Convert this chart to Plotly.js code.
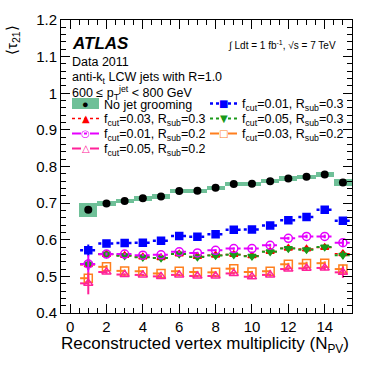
<!DOCTYPE html>
<html>
<head>
<meta charset="utf-8">
<script src="https://cdn.plot.ly/plotly-3.0.1.min.js"></script>
<style>
  html, body { margin: 0; padding: 0; background: #fff; }
  #chart { width: 382px; height: 367px; }
</style>
</head>
<body>
<div id="chart"></div>
<script>
// number of reconstructed vertices (bin centres)
const nPV = [1, 2, 3, 4, 5, 6, 7, 8, 9, 10, 11, 12, 13, 14, 15];

// <tau21> per configuration
const noGroom   = [0.682, 0.699, 0.706, 0.713, 0.718, 0.733, 0.734, 0.742, 0.752, 0.753, 0.760, 0.767, 0.772, 0.778, 0.756];
const noGroomSyst = [0.019, 0.007, 0.006, 0.006, 0.006, 0.005, 0.005, 0.005, 0.005, 0.005, 0.005, 0.006, 0.006, 0.008, 0.010];

const f01R03 = [0.571, 0.590, 0.591, 0.592, 0.597, 0.610, 0.608, 0.615, 0.627, 0.628, 0.639, 0.653, 0.662, 0.682, 0.652];
const f01R03Err = [0.016, 0.004, 0.003, 0.003, 0.003, 0.003, 0.003, 0.003, 0.003, 0.003, 0.004, 0.004, 0.005, 0.005, 0.009];

const f03R03 = [0.532, 0.560, 0.557, 0.553, 0.551, 0.561, 0.554, 0.558, 0.560, 0.556, 0.568, 0.577, 0.575, 0.579, 0.562];
const f03R03Err = [0.015, 0.004, 0.003, 0.003, 0.003, 0.003, 0.003, 0.003, 0.003, 0.003, 0.004, 0.004, 0.005, 0.005, 0.010];

const f05R03 = [0.534, 0.561, 0.556, 0.552, 0.550, 0.561, 0.553, 0.557, 0.559, 0.555, 0.567, 0.576, 0.573, 0.580, 0.558];
const f05R03Err = [0.012, 0.004, 0.003, 0.003, 0.003, 0.003, 0.003, 0.003, 0.003, 0.003, 0.004, 0.004, 0.005, 0.006, 0.011];

const f01R02 = [0.534, 0.561, 0.561, 0.558, 0.559, 0.567, 0.564, 0.571, 0.576, 0.576, 0.585, 0.604, 0.609, 0.609, 0.592];
const f01R02Err = [0.024, 0.004, 0.003, 0.003, 0.003, 0.003, 0.003, 0.003, 0.003, 0.003, 0.004, 0.004, 0.005, 0.005, 0.009];

const f03R02 = [0.495, 0.526, 0.515, 0.514, 0.508, 0.514, 0.512, 0.511, 0.521, 0.512, 0.514, 0.533, 0.535, 0.536, 0.520];
const f03R02Err = [0.015, 0.005, 0.003, 0.003, 0.003, 0.003, 0.003, 0.003, 0.003, 0.003, 0.004, 0.004, 0.005, 0.005, 0.012];

const f05R02 = [0.481, 0.512, 0.505, 0.504, 0.500, 0.504, 0.501, 0.501, 0.508, 0.499, 0.504, 0.520, 0.522, 0.523, 0.511];
const f05R02Err = [0.030, 0.005, 0.003, 0.003, 0.003, 0.003, 0.003, 0.003, 0.003, 0.003, 0.004, 0.004, 0.005, 0.006, 0.015];

const FONT = 'Liberation Sans, Arial, Helvetica, sans-serif';
const BAND = '#6fc098';

// horizontal "error bar" segments spanning each bin
function binSegments(xs, ys, half) {
    const sx = [], sy = [];
    xs.forEach((x, i) => {
        sx.push(x - half, x + half, null);
        sy.push(ys[i], ys[i], null);
    });
    return {x: sx, y: sy};
}

const series = [
    {name: 'f<sub>cut</sub>=0.01, R<sub>sub</sub>=0.3', y: f01R03, err: f01R03Err, color: '#0000ff', symbol: 'square', glyph: '■', size: 7, dash: 'dot', lw: 2.5, col: 1, row: 0},
    {name: 'f<sub>cut</sub>=0.03, R<sub>sub</sub>=0.3', y: f03R03, err: f03R03Err, color: '#ff0000', symbol: 'triangle-up', glyph: '▲', size: 7, dash: 'dot', lw: 1.5, col: 0, row: 1},
    {name: 'f<sub>cut</sub>=0.05, R<sub>sub</sub>=0.3', y: f05R03, err: f05R03Err, color: '#1a9a1a', symbol: 'triangle-down', glyph: '▼', size: 7, dash: 'dot', lw: 2, col: 1, row: 1},
    {name: 'f<sub>cut</sub>=0.01, R<sub>sub</sub>=0.2', y: f01R02, err: f01R02Err, color: '#e600ff', symbol: 'circle-open', glyph: '○', size: 8, dash: 'dashdot', lw: 2, col: 0, row: 2},
    {name: 'f<sub>cut</sub>=0.03, R<sub>sub</sub>=0.2', y: f03R02, err: f03R02Err, color: '#ff7f1e', symbol: 'square-open', glyph: '□', size: 8, dash: 'dash', lw: 2, col: 1, row: 2},
    {name: 'f<sub>cut</sub>=0.05, R<sub>sub</sub>=0.2', y: f05R02, err: f05R02Err, color: '#ff2299', symbol: 'triangle-up-open', glyph: '△', size: 8, dash: 'dash', lw: 2, col: 0, row: 3}
];

const traces = [];

// green band for the ungroomed jets
traces.push({
    type: 'bar',
    x: nPV,
    base: noGroom.map((v, i) => v - noGroomSyst[i]),
    y: noGroomSyst.map(e => 2 * e),
    width: 1,
    marker: {color: BAND, line: {width: 0}},
    hoverinfo: 'skip'
});

// bin-wide dotted lines
series.forEach(s => {
    const seg = binSegments(nPV, s.y, 0.45);
    traces.push({
        type: 'scatter', x: seg.x, y: seg.y, mode: 'lines',
        line: {color: s.color, width: s.lw, dash: s.dash},
        hoverinfo: 'skip', connectgaps: false
    });
});

// markers with statistical error bars
series.forEach(s => {
    traces.push({
        type: 'scatter', x: nPV, y: s.y, mode: 'markers', name: s.name,
        marker: {color: s.color, symbol: s.symbol, size: s.size, line: {color: s.color, width: 1.5}},
        error_y: {type: 'data', array: s.err, color: s.color, thickness: 2, width: 0}
    });
});

traces.push({
    type: 'scatter', x: nPV, y: noGroom, mode: 'markers', name: 'No jet grooming',
    marker: {color: 'black', symbol: 'circle', size: 8}
});

// ---- hand-placed legend (ROOT style, two columns) ----
const plotL = 61, plotW = 291, plotB = 313, plotH = 293;
const px = v => (v - plotL) / plotW;
const py = v => (plotB - v) / plotH;
const legColX = [72, 210];
const legRowY0 = 103.5, legRowStep = 15, legLineLen = 27;

const shapes = [];
const annotations = [];

function legendLabel(text, col, row) {
    annotations.push({
        text: text, xref: 'paper', yref: 'paper',
        x: px(legColX[col] + legLineLen + 3), y: py(legRowY0 + row * legRowStep + 1.5),
        xanchor: 'left', yanchor: 'middle', showarrow: false,
        font: {size: 12.5}
    });
}

// "No jet grooming": band box with black dot
shapes.push({
    type: 'rect', xref: 'paper', yref: 'paper',
    x0: px(legColX[0]), x1: px(legColX[0] + legLineLen),
    y0: py(legRowY0 - 5.5), y1: py(legRowY0 + 5.5),
    fillcolor: BAND, line: {width: 0}
});
annotations.push({
    text: '●', xref: 'paper', yref: 'paper',
    x: px(legColX[0] + legLineLen / 2), y: py(legRowY0),
    xanchor: 'center', yanchor: 'middle', showarrow: false,
    font: {size: 11, color: 'black'}
});
legendLabel('No jet grooming', 0, 0);

series.forEach(s => {
    const yRow = legRowY0 + s.row * legRowStep;
    shapes.push({
        type: 'line', xref: 'paper', yref: 'paper',
        x0: px(legColX[s.col]), x1: px(legColX[s.col] + legLineLen),
        y0: py(yRow), y1: py(yRow),
        line: {color: s.color, width: s.lw, dash: s.dash}
    });
    annotations.push({
        text: s.glyph, xref: 'paper', yref: 'paper',
        x: px(legColX[s.col] + legLineLen / 2), y: py(yRow),
        xanchor: 'center', yanchor: 'middle', showarrow: false,
        font: {size: 10, color: s.color, family: 'DejaVu Sans'}
    });
    legendLabel(s.name, s.col, s.row);
});

annotations.push(
    {text: '<b><i>ATLAS</i></b>', xref: 'paper', yref: 'paper', x: px(70), y: py(43.5),
     xanchor: 'left', yanchor: 'middle', showarrow: false, font: {size: 17}},
    {text: 'Data 2011', xref: 'paper', yref: 'paper', x: px(70), y: py(62),
     xanchor: 'left', yanchor: 'middle', showarrow: false, font: {size: 12.5}},
    {text: 'anti-k<sub>t</sub> LCW jets with R=1.0', xref: 'paper', yref: 'paper', x: px(70), y: py(77.5),
     xanchor: 'left', yanchor: 'middle', showarrow: false, font: {size: 12.5}},
    {text: '600 ≤ p<sub>T</sub><sup>jet</sup> &lt; 800 GeV', xref: 'paper', yref: 'paper', x: px(70), y: py(92.5),
     xanchor: 'left', yanchor: 'middle', showarrow: false, font: {size: 12.5}},
    {text: '∫ Ldt = 1 fb<sup>-1</sup>, √s = 7 TeV', xref: 'paper', yref: 'paper', x: px(226), y: py(45),
     xanchor: 'left', yanchor: 'middle', showarrow: false, font: {size: 10}},
    {text: '⟨τ<sub>21</sub>⟩', xref: 'paper', yref: 'paper', x: px(12), y: py(40),
     xanchor: 'center', yanchor: 'middle', textangle: -90, showarrow: false, font: {size: 15}},
    {text: 'Reconstructed vertex multiplicity (N<sub>PV</sub>)', xref: 'paper', yref: 'paper', x: px(351), y: py(345),
     xanchor: 'right', yanchor: 'middle', showarrow: false, font: {size: 17}}
);

const axisCommon = {
    showline: true, linecolor: 'black', linewidth: 1,
    mirror: 'ticks', ticks: 'inside', ticklen: 9, tickcolor: 'black', tickwidth: 1,
    showgrid: false, zeroline: false,
    tickfont: {family: FONT, size: 15, color: 'black'}
};

const layout = {
    width: 382, height: 367,
    margin: {l: 61, r: 30, t: 20, b: 54},
    paper_bgcolor: 'white', plot_bgcolor: 'white',
    font: {family: FONT, color: 'black'},
    showlegend: false,
    bargap: 0,
    xaxis: Object.assign({}, axisCommon, {
        range: [-0.5, 15.5], tick0: 0, dtick: 2,
        minor: {dtick: 0.5, ticklen: 5, tickcolor: 'black', ticks: 'inside'}
    }),
    yaxis: Object.assign({}, axisCommon, {
        range: [0.4, 1.2], tick0: 0.4, dtick: 0.1,
        minor: {dtick: 0.02, ticklen: 5, tickcolor: 'black', ticks: 'inside'}
    }),
    shapes: shapes,
    annotations: annotations
};

Plotly.newPlot('chart', traces, layout, {staticPlot: true});
</script>
</body>
</html>
